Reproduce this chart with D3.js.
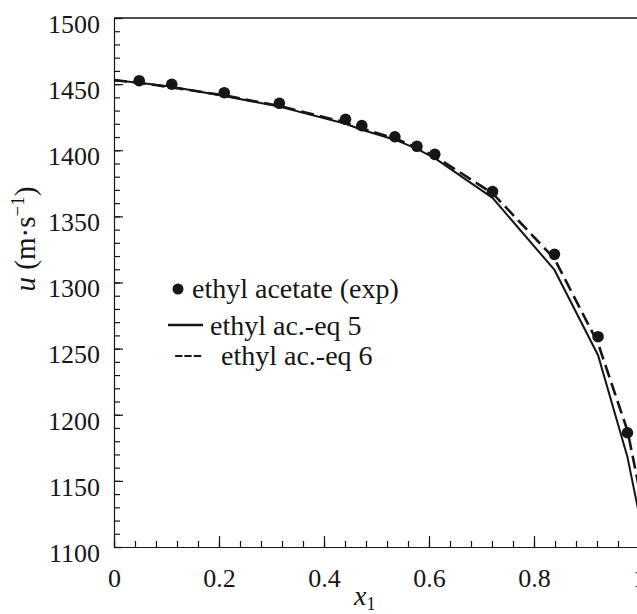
<!DOCTYPE html>
<html>
<head>
<meta charset="utf-8">
<script src="https://cdn.jsdelivr.net/npm/d3@7"></script>
</head>
<body style="margin:0; background:#fff">
<svg id="chart" width="637" height="614"></svg>
<script>
// experimental points (ethyl acetate)
const expX = [0.048, 0.110, 0.210, 0.315, 0.441, 0.472, 0.535, 0.577, 0.611, 0.721, 0.839, 0.922, 0.978];
const expU = [1452.6, 1449.9, 1443.5, 1435.5, 1423.4, 1418.6, 1410.2, 1403.0, 1396.9, 1368.7, 1321.3, 1259.0, 1186.4];

// model curves, evaluated at the same compositions plus the pure ends
const modelX = [0, 0.048, 0.110, 0.210, 0.315, 0.441, 0.472, 0.535, 0.577, 0.611, 0.721, 0.839, 0.922, 0.978, 1];
const eq5U = [1453, 1451, 1448, 1441, 1433, 1420, 1415.5, 1408, 1401, 1394, 1364, 1309.5, 1245, 1168, 1125];
const eq6U = [1453, 1451, 1447.5, 1441.5, 1433.5, 1421, 1416.5, 1409, 1402, 1395.5, 1367.5, 1318, 1254, 1188, 1145];

const xTicks = [0, 0.2, 0.4, 0.6, 0.8, 1];
const yTicks = [1100, 1150, 1200, 1250, 1300, 1350, 1400, 1450, 1500];

const legendItems = ["ethyl acetate (exp)", "ethyl ac.-eq 5", "ethyl ac.-eq 6"];

const serif = '"Liberation Serif"';
const svg = d3.select("#chart");
const ink = "#161616";

const x = d3.scaleLinear().domain([0, 1]).range([114, 639]);
const y = d3.scaleLinear().domain([1100, 1500]).range([547, 18]);

// ---- axes ----
// minor ticks first (no labels)
svg.append("g")
  .attr("transform", `translate(0,${y(1100)})`)
  .call(d3.axisBottom(x).tickValues(d3.range(0, 1.001, 0.04)).tickSizeInner(-6).tickSizeOuter(0).tickFormat(""))
  .call(g => g.select(".domain").remove());

svg.append("g")
  .attr("transform", `translate(${x(0)},0)`)
  .call(d3.axisLeft(y).tickValues(d3.range(1100, 1501, 10)).tickSizeInner(-6).tickSizeOuter(0).tickFormat(""))
  .call(g => g.select(".domain").remove());

const xAxis = svg.append("g")
  .attr("transform", `translate(0,${y(1100)})`)
  .call(d3.axisBottom(x).tickValues(xTicks).tickSizeInner(-11).tickSizeOuter(0).tickPadding(22)
    .tickFormat(d => d === 0 || d === 1 ? String(d) : d3.format(".1f")(d)));
xAxis.selectAll("text").style("font-family", serif).style("font-size", "26px").style("fill", ink);

const yAxis = svg.append("g")
  .attr("transform", `translate(${x(0)},0)`)
  .call(d3.axisLeft(y).tickValues(yTicks).tickFormat(d3.format("d")).tickSizeInner(-9).tickSizeOuter(0).tickPadding(14));
yAxis.selectAll("text").style("font-family", serif).style("font-size", "26px").style("fill", ink).attr("dy", "0.55em");

svg.selectAll(".domain, .tick line").attr("stroke", ink).attr("stroke-width", 1.2);

// top frame line
svg.append("line")
  .attr("x1", x(0)).attr("x2", x(1))
  .attr("y1", y(1500)).attr("y2", y(1500))
  .attr("stroke", ink).attr("stroke-width", 1.5);

// ---- curves ----
const line = d3.line().x(d => x(d[0])).y(d => y(d[1]));

svg.append("path")
  .datum(modelX.map((v, i) => [v, eq5U[i]]))
  .attr("fill", "none")
  .attr("stroke", ink)
  .attr("stroke-width", 2)
  .attr("d", line);

svg.append("path")
  .datum(modelX.map((v, i) => [v, eq6U[i]]))
  .attr("fill", "none")
  .attr("stroke", ink)
  .attr("stroke-width", 2.6)
  .attr("stroke-dasharray", "13,6")
  .attr("d", line);

svg.selectAll(".pt")
  .data(expX.map((v, i) => [v, expU[i]]))
  .join("circle")
  .attr("class", "pt")
  .attr("cx", d => x(d[0]))
  .attr("cy", d => y(d[1]))
  .attr("r", 5.8)
  .attr("fill", ink);

// ---- legend ----
const label = (sel, size) => sel.style("font-family", serif).style("font-size", size + "px").style("fill", ink);
const legend = svg.append("g");
legend.append("circle").attr("cx", 178).attr("cy", 289).attr("r", 5.5).attr("fill", ink);
legend.append("text").attr("x", 192).attr("y", 298).call(label, 28).text(legendItems[0]);

legend.append("line").attr("x1", 168).attr("x2", 203).attr("y1", 325).attr("y2", 325)
  .attr("stroke", ink).attr("stroke-width", 2.4);
legend.append("text").attr("x", 210).attr("y", 335).call(label, 28).text(legendItems[1]);

legend.append("text").attr("x", 174).attr("y", 362).call(label, 28).text("---");
legend.append("text").attr("x", 221).attr("y", 365).call(label, 28).text(legendItems[2]);

// ---- axis titles ----
const xt = svg.append("text").attr("x", 354).attr("y", 605).call(label, 28);
xt.append("tspan").style("font-style", "italic").text("x");
xt.append("tspan").attr("dy", 5).style("font-size", "18px").text("1");

const yt = svg.append("text")
  .attr("transform", "translate(35,239) rotate(-90)")
  .attr("text-anchor", "middle")
  .call(label, 29);
yt.append("tspan").style("font-style", "italic").text("u");
yt.append("tspan").text(" (m·s");
yt.append("tspan").attr("dy", -11).style("font-size", "19px").text("−1");
yt.append("tspan").attr("dy", 11).text(")");
</script>
</body>
</html>
